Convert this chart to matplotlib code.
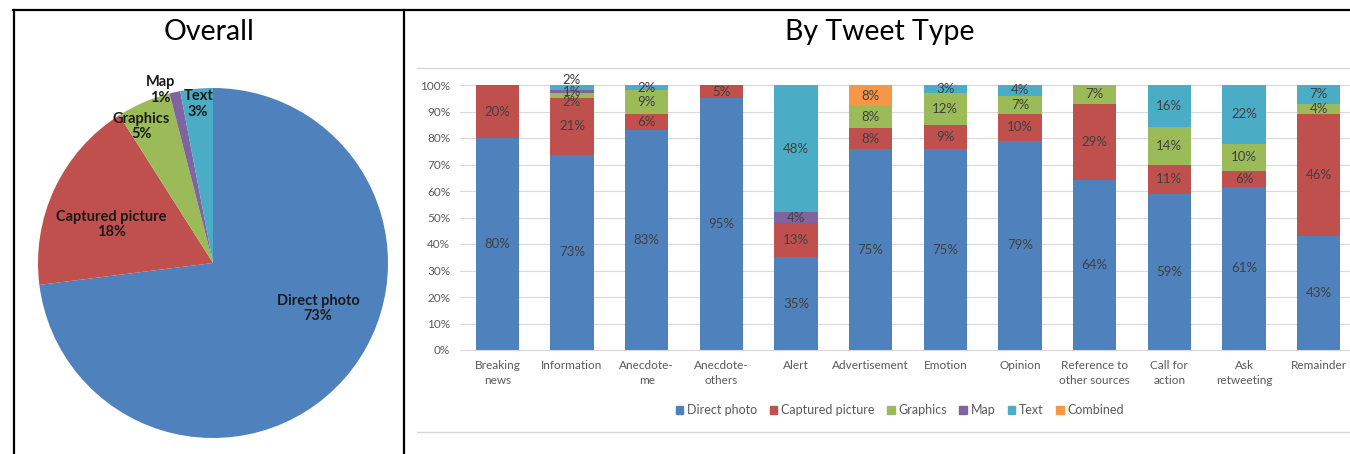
import numpy as np
import matplotlib.pyplot as plt
from matplotlib.lines import Line2D
from matplotlib.patches import Patch

plt.rcParams['font.family'] = ['Lato', 'DejaVu Sans']

# pie data
pie_labels = ['Direct photo', 'Captured picture', 'Graphics', 'Map', 'Text']
pie_vals = [73, 18, 5, 1, 3]

# bar data (percent labels as shown)
cats = ['Breaking\nnews', 'Information', 'Anecdote-\nme', 'Anecdote-\nothers', 'Alert',
        'Advertisement', 'Emotion', 'Opinion', 'Reference to\nother sources',
        'Call for\naction', 'Ask\nretweeting', 'Remainder']
series = ['Direct photo', 'Captured picture', 'Graphics', 'Map', 'Text', 'Combined']
direct   = [80, 73, 83, 95, 35, 75, 75, 79, 64, 59, 61, 43]
captured = [20, 21, 6, 5, 13, 8, 9, 10, 29, 11, 6, 46]
graphics = [0, 2, 9, 0, 0, 8, 12, 7, 7, 14, 10, 4]
mapc     = [0, 1, 0, 0, 4, 0, 0, 0, 0, 0, 0, 0]
text     = [0, 2, 2, 0, 48, 0, 3, 4, 0, 16, 22, 7]
combined = [0, 0, 0, 0, 0, 8, 0, 0, 0, 0, 0, 0]

colors = ['#4F81BD', '#C0504D', '#9BBB59', '#8064A2', '#4BACC6', '#F79646']

W, H = 1350, 454
fig = plt.figure(figsize=(W / 100, H / 100), dpi=100)

def fx(px):
    return px / W

def fy(py):
    return 1 - py / H

# frame lines
fig.add_artist(Line2D([fx(13), fx(1350)], [fy(10), fy(10)], color='black', lw=1.6))
fig.add_artist(Line2D([fx(14), fx(14)], [fy(10), fy(454)], color='black', lw=1.6))
fig.add_artist(Line2D([fx(404), fx(404)], [fy(10), fy(454)], color='black', lw=1.6))
# chart area borders of the bar chart
fig.add_artist(Line2D([fx(417), fx(1350)], [fy(68), fy(68)], color='#D9D9D9', lw=1))
fig.add_artist(Line2D([fx(417), fx(1350)], [fy(432), fy(432)], color='#D9D9D9', lw=1))

# ---- pie ----
r = 175
cx, cy = 213, 263
axp = fig.add_axes([fx(cx - r), fy(cy + r), 2 * r / W, 2 * r / H])
axp.pie(pie_vals, colors=colors[:5], startangle=90, counterclock=False,
        wedgeprops=dict(linewidth=0))
axp.set_xlim(-1, 1)
axp.set_ylim(-1, 1)
axp.axis('off')
pie_pos = [(0.60, -0.26), (-0.58, 0.22), (-0.41, 0.78), (-0.30, 0.99), (-0.085, 0.91)]
for lab, v, (x, y) in zip(pie_labels, pie_vals, pie_pos):
    axp.text(x, y, f'{lab}\n{v}%', ha='center', va='center', fontsize=10.5,
             fontweight='bold', color='#1a1a1a', linespacing=1.15)
fig.text(fx(209), fy(32), 'Overall', ha='center', va='center', fontsize=20.5)

# ---- stacked bars ----
ax = fig.add_axes([fx(460), fy(350), fx(1350) - fx(460), fy(85) - fy(350)])
data = np.array([direct, captured, graphics, mapc, text, combined], dtype=float)
totals = data.sum(axis=0)
shares = data / totals * 100
x = np.arange(len(cats))
bottom = np.zeros(len(cats))
# nudges for crowded labels (in %)
nudge = {(1, 4): 3.0, (1, 2): -2.5}
for i, (name, col) in enumerate(zip(series, colors)):
    ax.bar(x, shares[i], 0.58, bottom=bottom, color=col, label=name, zorder=2)
    for j in range(len(cats)):
        if data[i, j] > 0:
            yc = bottom[j] + shares[i, j] / 2 + nudge.get((j, i), 0)
            ax.text(x[j], yc, f'{int(data[i, j])}%', ha='center', va='center',
                    fontsize=9.5, color='#404040', zorder=3)
    bottom += shares[i]

ax.set_xlim(-0.5, 11.42)
ax.set_ylim(0, 100)
ax.set_yticks(np.arange(0, 101, 10))
ax.set_yticklabels([f'{v}%' for v in range(0, 101, 10)], fontsize=8.5, color='#595959')
ax.set_xticks(x)
ax.set_xticklabels(cats, fontsize=8.5, color='#595959', linespacing=1.5)
ax.tick_params(length=0, pad=7)
ax.grid(axis='y', color='#D9D9D9', lw=0.8, zorder=0)
for s in ['top', 'right', 'left']:
    ax.spines[s].set_visible(False)
ax.spines['bottom'].set_color('#D9D9D9')
fig.text(fx(880), fy(32), 'By Tweet Type', ha='center', va='center', fontsize=20.5)

handles = [Patch(color=c, label=n) for n, c in zip(series, colors)]
fig.legend(handles=handles, loc='center', bbox_to_anchor=(fx(900), fy(410)), ncol=6,
           frameon=False, fontsize=9, handlelength=0.6, handleheight=0.6,
           handletextpad=0.3, columnspacing=1.0, labelcolor='#595959')

fig.savefig('out.png', dpi=100)
